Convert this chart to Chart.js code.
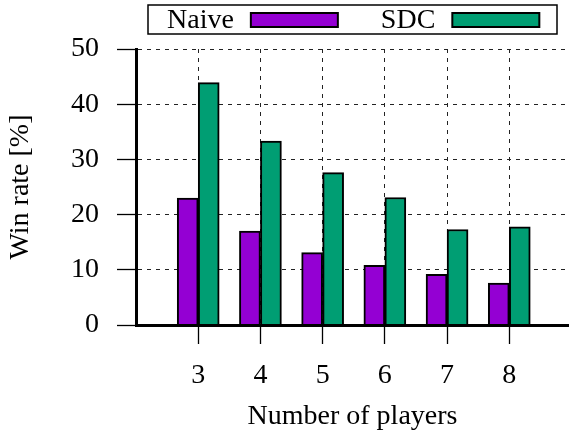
<!DOCTYPE html>
<html lang="en">
<head>
<meta charset="UTF-8">
<title>Win rate by number of players</title>
<script src="https://cdn.jsdelivr.net/npm/chart.js@4"></script>
<style>
  body { margin: 0; background: #fff; }
</style>
</head>
<body>
<canvas id="winChart" width="569" height="437"></canvas>
<script>
const players = [3, 4, 5, 6, 7, 8];
const naiveRate = [23.0, 17.0, 13.1, 10.8, 9.2, 7.6];
const sdcRate = [43.9, 33.3, 27.6, 23.1, 17.3, 17.8];
const yTicks = [0, 10, 20, 30, 40, 50];

const serif = "'Liberation Serif', 'Times New Roman', serif";

// boxed key, label first and the sample after it
const boxedKey = {
    id: 'boxedKey',
    afterDraw(chart) {
        const ctx = chart.ctx;
        const area = chart.chartArea;
        const w = 409, h = 29, top = 5;
        const left = (area.left + area.right) / 2 - w / 2;
        ctx.save();
        ctx.lineWidth = 1.5;
        ctx.strokeStyle = '#000';
        ctx.strokeRect(left, top, w, h);
        ctx.font = '28px ' + serif;
        ctx.textBaseline = 'middle';
        let x = left + 19;
        chart.data.datasets.forEach(ds => {
            ctx.fillStyle = '#000';
            ctx.fillText(ds.label, x, top + h / 2 + 1);
            x += ctx.measureText(ds.label).width + 17;
            ctx.fillStyle = ds.backgroundColor;
            ctx.fillRect(x, top + 8, 87, 14);
            ctx.lineWidth = 2;
            ctx.strokeRect(x, top + 8, 87, 14);
            x += 87 + 43;
        });
        ctx.restore();
    }
};

const dashedGrid = {
    color: '#222',
    lineWidth: 1,
    borderDash: [4, 5],
    tickLength: 19,
    tickColor: '#000',
    tickWidth: 1.3,
    tickBorderDash: [],
    offset: false
};

new Chart(document.getElementById('winChart'), {
    type: 'bar',
    data: {
        datasets: [{
            label: 'Naive',
            data: players.map((p, i) => ({ x: p, y: naiveRate[i] })),
            backgroundColor: '#9400d3'
        }, {
            label: 'SDC',
            data: players.map((p, i) => ({ x: p, y: sdcRate[i] })),
            backgroundColor: '#009e73'
        }]
    },
    options: {
        responsive: false,
        animation: false,
        layout: { padding: { top: 49, right: 0, bottom: 0, left: 0 } },
        datasets: {
            bar: { barThickness: 21, borderWidth: 2, borderColor: '#000', borderSkipped: 'start' }
        },
        plugins: {
            legend: { display: false },
            tooltip: { enabled: false }
        },
        scales: {
            x: {
                type: 'linear',
                offset: false,
                min: 2,
                max: 8.96,
                afterBuildTicks: s => { s.ticks = players.map(v => ({ value: v })); },
                afterFit: s => { s.height = 112; },
                grid: dashedGrid,
                border: { color: '#000', width: 3, dash: [4, 5], z: 1 },
                ticks: { color: '#000', font: { family: serif, size: 28 }, padding: 15, maxRotation: 0 },
                title: { display: true, text: 'Number of players', color: '#000', font: { family: serif, size: 28 } }
            },
            y: {
                min: 0,
                max: 50,
                afterBuildTicks: s => { s.ticks = yTicks.map(v => ({ value: v })); },
                afterFit: s => { s.width = 136; },
                grid: dashedGrid,
                border: { color: '#000', width: 3, dash: [4, 5], z: 1 },
                ticks: { color: '#000', font: { family: serif, size: 28 }, padding: 18 },
                title: { display: true, text: 'Win rate [%]', color: '#000', font: { family: serif, size: 28 } }
            }
        }
    },
    plugins: [boxedKey]
});
</script>
</body>
</html>
